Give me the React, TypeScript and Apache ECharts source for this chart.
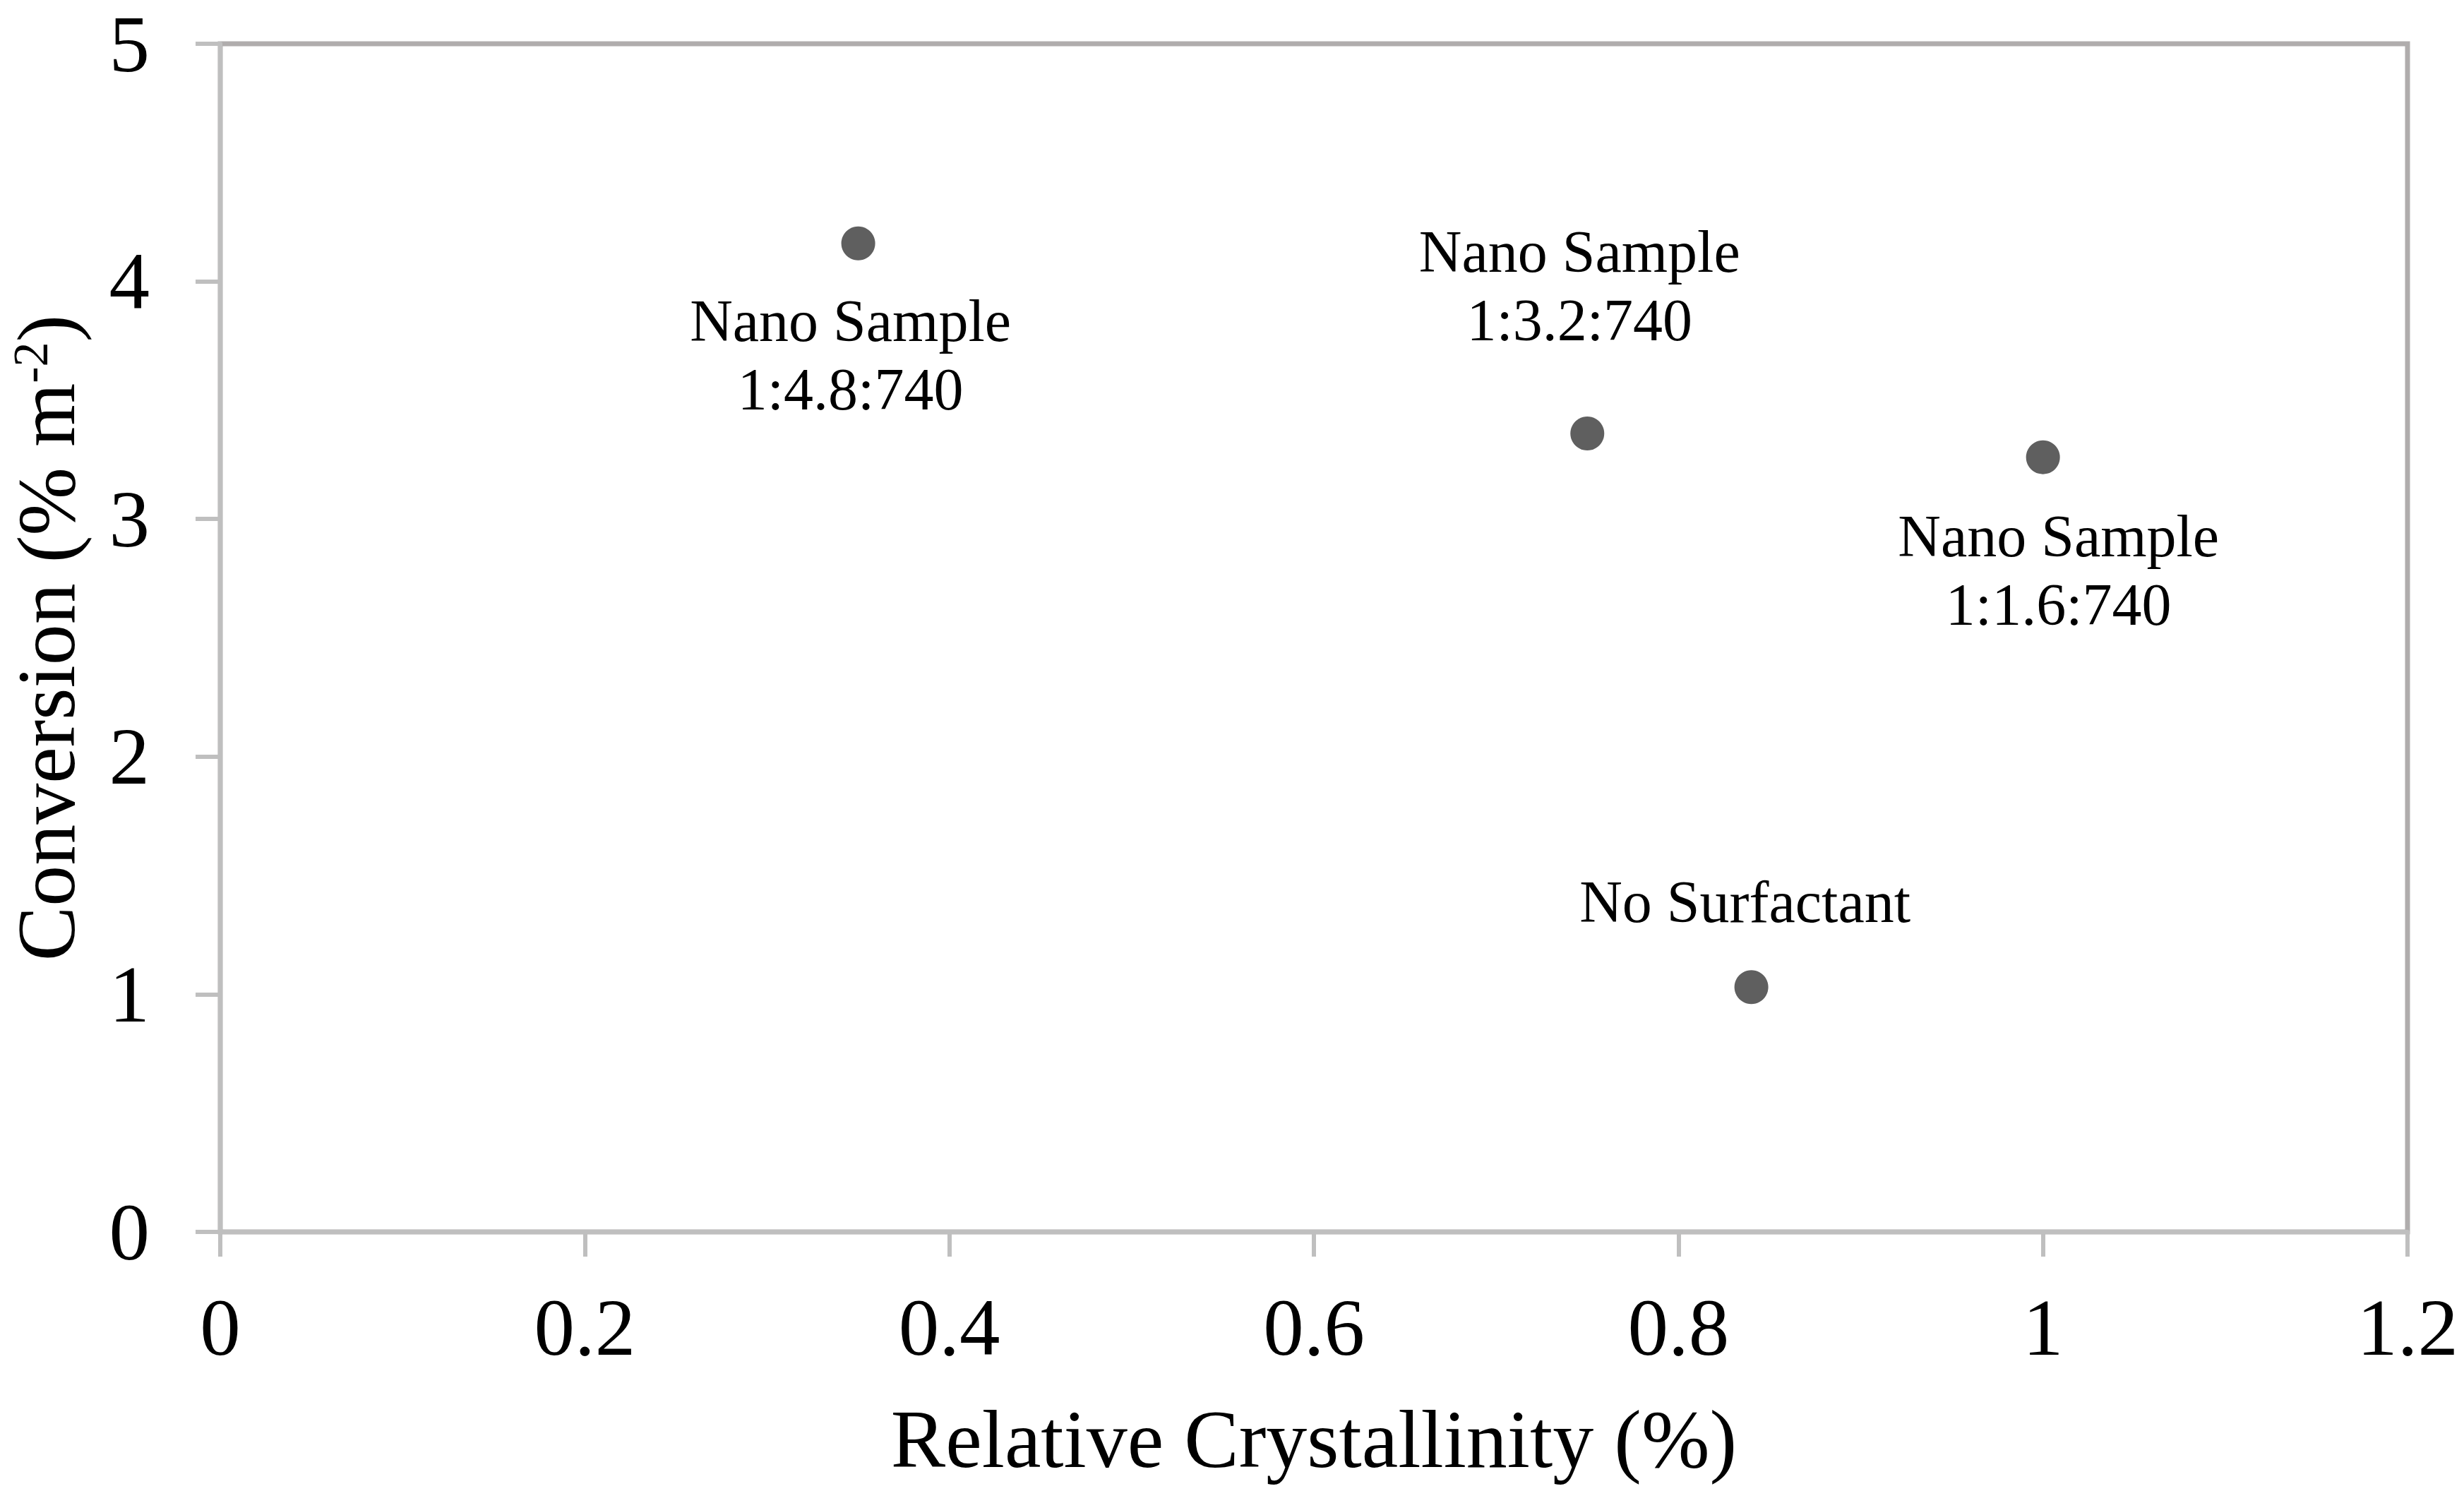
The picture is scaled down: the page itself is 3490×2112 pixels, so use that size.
import React, { useEffect, useRef } from "react";
import * as echarts from "echarts";

const crystallinity = [0.35, 0.75, 1.0, 0.84];
const conversion = [4.16, 3.36, 3.26, 1.03];
const sampleNames = [
  "Nano Sample\n1:4.8:740",
  "Nano Sample\n1:3.2:740",
  "Nano Sample\n1:1.6:740",
  "No Surfactant",
];
const labelOffsets = [
  [-11, 158],
  [-11, -209],
  [22, 160],
  [-9, -121],
];
const xTitle = "Relative Crystallinity (%)";
const FONT = "'Liberation Serif', 'Times New Roman', serif";

export default function App() {
  const ref = useRef<HTMLDivElement>(null);
  useEffect(() => {
    if (!ref.current) return;
    const chart = echarts.init(ref.current, null, { renderer: "svg" });
    const data = crystallinity.map((x, i) => ({
      value: [x, conversion[i]],
      label: {
        show: true,
        formatter: sampleNames[i],
        position: "inside",
        offset: labelOffsets[i],
        fontSize: 84,
        lineHeight: 97,
        fontFamily: FONT,
        color: "#000000",
        opacity: 1,
        textBorderWidth: 0,
        textBorderColor: "transparent",
        align: "center",
      },
    }));
    chart.setOption({
      animation: false,
      backgroundColor: "#fff",
      grid: {
        left: 309,
        right: 80,
        top: 62,
        bottom: 367,
        show: true,
        borderColor: "#B0ADAD",
        borderWidth: 7,
        backgroundColor: "transparent",
      },
      xAxis: {
        type: "value",
        min: 0,
        max: 1.2,
        interval: 0.2,
        name: xTitle,
        nameLocation: "middle",
        nameGap: 236,
        nameTextStyle: { fontSize: 116, fontFamily: FONT, color: "#000", lineHeight: 116 },
        axisLine: { show: true, onZero: false, lineStyle: { color: "#BFBFBF", width: 6 } },
        axisTick: { show: true, inside: false, length: 35, lineStyle: { color: "#BFBFBF", width: 6 } },
        axisLabel: { margin: 78, fontSize: 115, fontFamily: FONT, color: "#000" },
        splitLine: { show: false },
      },
      yAxis: {
        type: "value",
        min: 0,
        max: 5,
        interval: 1,
        name: "Conversion (% m{sup|-2})",
        nameLocation: "middle",
        nameGap: 188,
        nameTextStyle: {
          fontSize: 116,
          fontFamily: FONT,
          color: "#000",
          lineHeight: 116,
          rich: {
            sup: {
              fontSize: 70,
              fontFamily: FONT,
              color: "#000",
              lineHeight: 116,
              verticalAlign: "top",
            },
          },
        },
        axisLine: { show: true, onZero: false, lineStyle: { color: "#BFBFBF", width: 6 } },
        axisTick: { show: true, inside: false, length: 35, lineStyle: { color: "#BFBFBF", width: 6 } },
        axisLabel: { margin: 100, fontSize: 115, fontFamily: FONT, color: "#000" },
        splitLine: { show: false },
      },
      series: [
        {
          type: "scatter",
          symbol: "circle",
          symbolSize: 48,
          itemStyle: { color: "#5F5F5F", opacity: 1 },
          data,
        },
      ],
    });
    return () => chart.dispose();
  }, []);
  return (
    <div
      ref={ref}
      style={{ position: "fixed", left: 0, top: 0, width: 3490, height: 2112, background: "#fff" }}
    />
  );
}
